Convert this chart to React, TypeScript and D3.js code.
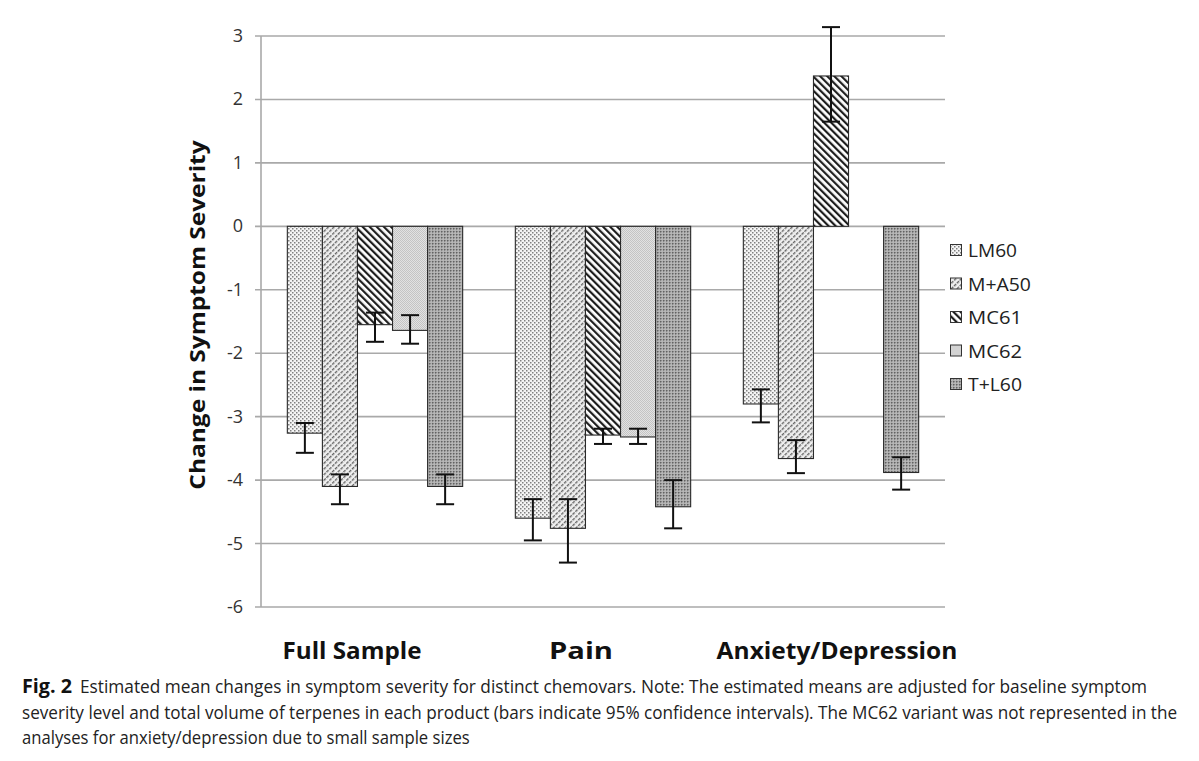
import React, {useLayoutEffect, useRef, useState} from 'react';
import * as d3 from 'd3';

const categories = ["Full Sample", "Pain", "Anxiety/Depression"];
const seriesNames = ["LM60", "M+A50", "MC61", "MC62", "T+L60"];

// estimated means per chemovar, one value per category (null = not represented)
const lm60 = [-3.26, -4.60, -2.80];
const ma50 = [-4.10, -4.76, -3.66];
const mc61 = [-1.55, -3.29, 2.37];
const mc62 = [-1.64, -3.32, null];
const tl60 = [-4.10, -4.42, -3.88];

// 95% CI upper / lower bounds
const lm60Hi = [-3.10, -4.30, -2.57];
const lm60Lo = [-3.57, -4.95, -3.09];
const ma50Hi = [-3.91, -4.30, -3.37];
const ma50Lo = [-4.38, -5.30, -3.89];
const mc61Hi = [-1.36, -3.19, 3.14];
const mc61Lo = [-1.82, -3.43, 1.65];
const mc62Hi = [-1.40, -3.19, null];
const mc62Lo = [-1.85, -3.43, null];
const tl60Hi = [-3.91, -4.00, -3.64];
const tl60Lo = [-4.38, -4.76, -4.15];

const yTickValues = [3, 2, 1, 0, -1, -2, -3, -4, -5, -6];

const captionLines = [
  "Estimated mean changes in symptom severity for distinct chemovars. Note: The estimated means are adjusted for baseline symptom",
  "severity level and total volume of terpenes in each product (bars indicate 95% confidence intervals). The MC62 variant was not represented in the",
  "analyses for anxiety/depression due to small sample sizes",
];

type SeriesRow = {name: string, values: (number|null)[], hi: (number|null)[], lo: (number|null)[]};
const series: SeriesRow[] = [
  {name: seriesNames[0], values: lm60, hi: lm60Hi, lo: lm60Lo},
  {name: seriesNames[1], values: ma50, hi: ma50Hi, lo: ma50Lo},
  {name: seriesNames[2], values: mc61, hi: mc61Hi, lo: mc61Lo},
  {name: seriesNames[3], values: mc62, hi: mc62Hi, lo: mc62Lo},
  {name: seriesNames[4], values: tl60, hi: tl60Hi, lo: tl60Lo},
];

const width = 1199;
const height = 761;
const plotLeft = 261;
const plotRight = 945;
const plotTop = 36;
const plotBottom = 607;
const gridColor = "#a9a9a9";
const chartFont = "'Open Sans', 'Noto Sans', sans-serif";
const captionFont = "'Open Sans', 'Noto Sans', sans-serif";
// the category labels are not centred on their clusters in the figure
const catLabelNudge = [-23, -22, 6];
const catLabelWidths = [139, 64, 241];
const captionWidths = [1068, 1156, 448];

const patternIds = ["pLM60", "pMA50", "pMC61", "pMC62", "pTL60"];

type FitProps = {
  x: number, y: number, width: number, anchor?: "start"|"middle"|"end",
  fontSize: number, fontWeight?: string, fontFamily: string, fill: string, rotate?: number,
  children: string,
}

// text squeezed horizontally to a target width (stands in for the narrow fonts of the figure)
const FitText = ({x, y, width, anchor="start", fontSize, fontWeight="normal", fontFamily, fill, rotate=0, children}:FitProps) => {
  const ref = useRef<SVGTextElement>(null);
  const [sx, setSx] = useState(1);
  useLayoutEffect(() => {
    if (ref.current) {
      const w = ref.current.getBBox().width;
      if (w > 0) setSx(width / w);
    }
  }, [width, children]);
  return (
    <g transform={`translate(${x}, ${y}) rotate(${rotate}) scale(${sx}, 1)`}>
      <text ref={ref} textAnchor={anchor} fontSize={fontSize} fontWeight={fontWeight}
        fontFamily={fontFamily} fill={fill}>{children}</text>
    </g>
  );
}

const Patterns = () => (
  <defs>
    <pattern id="pLM60" width={4} height={4} patternUnits="userSpaceOnUse">
      <rect width={4} height={4} fill="#f4f4f4"/>
      <rect x={0} y={0} width={1.5} height={1.5} fill="#808080"/>
      <rect x={2} y={2} width={1.5} height={1.5} fill="#808080"/>
    </pattern>
    <pattern id="pMA50" width={4} height={4} patternUnits="userSpaceOnUse" patternTransform="rotate(45)">
      <rect width={4} height={4} fill="#efefef"/>
      <rect x={0} y={0} width={1.4} height={3} fill="#666"/>
    </pattern>
    <pattern id="pMC61" width={5} height={5} patternUnits="userSpaceOnUse" patternTransform="rotate(-45)">
      <rect width={5} height={5} fill="#ffffff"/>
      <rect x={0} y={0} width={2.2} height={5} fill="#1e1e1e"/>
    </pattern>
    <pattern id="pMC62" width={2} height={2} patternUnits="userSpaceOnUse">
      <rect width={2} height={2} fill="#e2e2e2"/>
      <rect x={0} y={0} width={1} height={1} fill="#c4c4c4"/>
      <rect x={1} y={1} width={1} height={1} fill="#c4c4c4"/>
    </pattern>
    <pattern id="pTL60" width={3} height={3} patternUnits="userSpaceOnUse">
      <rect width={3} height={3} fill="#adadad"/>
      <rect x={0} y={0} width={1.5} height={1.5} fill="#626262"/>
      <rect x={1.5} y={1.5} width={1} height={1} fill="#d6d6d6"/>
    </pattern>
  </defs>
);

const App: React.FC = () => {
  const yScale = d3.scaleLinear().domain([-6, 3]).range([plotBottom, plotTop]);
  const x0 = d3.scaleBand<string>().domain(categories).range([plotLeft, plotRight])
    .paddingInner(0.231).paddingOuter(0.1155);
  const x1 = d3.scaleBand<string>().domain(seriesNames).range([0, x0.bandwidth()]);
  const capHalf = 9;

  return (
    <svg width={width} height={height} style={{position: "absolute", left: 0, top: 0, background: "white"}}>
      <Patterns/>
      {/* gridlines + ticks */}
      {yTickValues.map(v => (
        <g key={v}>
          <line x1={plotLeft - 6} x2={plotRight} y1={yScale(v)} y2={yScale(v)} stroke={gridColor} strokeWidth={1.6}/>
          <text x={243} y={yScale(v) + 6} textAnchor="end" fontFamily={chartFont} fontSize={18} fill="#333">{v}</text>
        </g>
      ))}
      <line x1={plotLeft} x2={plotLeft} y1={plotTop} y2={plotBottom} stroke={gridColor} strokeWidth={1.6}/>

      {/* bars */}
      {series.map((s, si) => (
        <g key={s.name}>
          {categories.map((c, ci) => {
            const v = s.values[ci];
            if (v === null) return null;
            const x = (x0(c) as number) + (x1(s.name) as number);
            const y = yScale(Math.max(v, 0));
            const h = Math.abs(yScale(v) - yScale(0));
            return (
              <rect key={c} x={x} y={y} width={x1.bandwidth()} height={h}
                fill={`url(#${patternIds[si]})`} stroke="#2a2a2a" strokeWidth={1.1}/>
            );
          })}
        </g>
      ))}

      {/* error bars */}
      {series.map(s => (
        <g key={s.name + "err"}>
          {categories.map((c, ci) => {
            const hi = s.hi[ci];
            const lo = s.lo[ci];
            if (hi === null || lo === null) return null;
            const cx = (x0(c) as number) + (x1(s.name) as number) + x1.bandwidth() / 2;
            return (
              <g key={c} stroke="#111" strokeWidth={2}>
                <line x1={cx} x2={cx} y1={yScale(hi)} y2={yScale(lo)}/>
                <line x1={cx - capHalf} x2={cx + capHalf} y1={yScale(hi)} y2={yScale(hi)}/>
                <line x1={cx - capHalf} x2={cx + capHalf} y1={yScale(lo)} y2={yScale(lo)}/>
              </g>
            );
          })}
        </g>
      ))}

      {/* legend */}
      {seriesNames.map((n, i) => (
        <g key={n} transform={`translate(950, ${250 + i * 33.5})`}>
          <rect x={0.5} y={-5.5} width={11} height={11} fill={`url(#${patternIds[i]})`} stroke="#333" strokeWidth={1}/>
          <FitText x={18} y={7} width={[49, 63, 54, 54, 54][i]} fontFamily={chartFont} fontSize={18} fill="#222">{n}</FitText>
        </g>
      ))}

      {/* y axis title */}
      <FitText x={205} y={315} width={350} anchor="middle" rotate={-90}
        fontFamily={chartFont} fontWeight="bold" fontSize={22} fill="#111">Change in Symptom Severity</FitText>

      {/* category labels */}
      {categories.map((c, i) => (
        <FitText key={c} x={(x0(c) as number) + x0.bandwidth() / 2 + catLabelNudge[i]} y={659}
          width={catLabelWidths[i]} anchor="middle" fontFamily={chartFont} fontWeight="bold"
          fontSize={24} fill="#111">{c}</FitText>
      ))}

      {/* caption */}
      <FitText x={22} y={693} width={50} fontFamily={captionFont} fontWeight="bold" fontSize={20} fill="#111">Fig. 2</FitText>
      {captionLines.map((line, i) => (
        <FitText key={i} x={i === 0 ? 80 : 22} y={693 + i * 25.5} width={captionWidths[i]}
          fontFamily={captionFont} fontSize={19} fill="#222">{line}</FitText>
      ))}
    </svg>
  );
};

export default App;
